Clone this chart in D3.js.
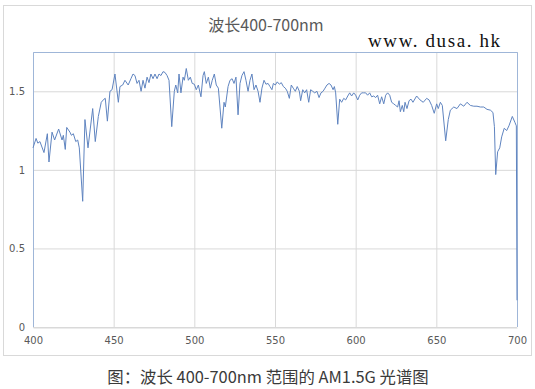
<!DOCTYPE html>
<html>
<head>
<meta charset="utf-8">
<script src="https://cdnjs.cloudflare.com/ajax/libs/d3/7.8.5/d3.min.js"></script>
<style>
	body { margin: 0; background: #fff; }
	svg { display: block; }
</style>
</head>
<body>
<svg id="chart" width="535" height="389"></svg>
<script>
// wavelength (nm)
var wavelengths = [
	400, 401.9, 403, 404.3, 406.8, 408.9, 409.9, 411.8, 413.4, 415.9,
	418, 418.8, 420, 420.9, 422.9, 423.8, 425, 426.5, 427.7, 428.7,
	430.8, 432.2, 434.1, 437, 438.6, 440.5, 442.3, 444, 444.8, 446.1,
	447.7, 449, 450.8, 452.9, 453.9, 455.6, 457, 459, 460.7, 462,
	463.2, 464.5, 465.7, 467, 468.2, 469.4, 470.7, 471.9, 473.1, 474.4,
	475.6, 476.9, 478.1, 479.3, 480.6, 481.8, 483.1, 484.3, 486, 487.6,
	488.5, 489.7, 490.5, 491.7, 493, 493.8, 495, 496.3, 497.5, 498.7,
	500, 501.2, 502.5, 504.1, 505.4, 506.2, 507.4, 508.7, 509.9, 511.1,
	512.4, 513.6, 514.9, 517, 518.4, 519.2, 520.9, 522.1, 523.4, 524.6,
	525.8, 527.1, 528.3, 529.5, 530.8, 532, 533.3, 534.5, 535.7, 537,
	538.2, 539.5, 540.7, 541.9, 543.2, 544.4, 545.7, 546.9, 548.1, 549,
	550.2, 551.4, 552.7, 553.9, 555.2, 556.4, 557.6, 558.9, 560.1, 561.3,
	562.6, 563.8, 565.1, 565.9, 567.2, 568.4, 569.6, 570.9, 572.1, 573.4,
	574.6, 576, 577.3, 578.5, 579.8, 581, 582.2, 583.5, 584.7, 586,
	586.8, 587.6, 588.9, 590.1, 591.3, 592.6, 593.8, 595.1, 596.3, 597.5,
	598.8, 600, 601.3, 602.5, 603.7, 605, 606.2, 607.4, 608.7, 609.9,
	611.2, 612.4, 613.6, 614.9, 616.1, 617.4, 618.6, 619.8, 621.1, 622.3,
	623.6, 624.8, 626, 626.9, 627.7, 628.9, 629.8, 630.6, 631.8, 633.1,
	634.3, 635.5, 637.8, 639.9, 641.9, 644, 645.5, 647.1, 648.7, 650.2,
	651.2, 652.5, 653.7, 655.8, 657.4, 658.7, 660.8, 662.8, 664.9, 667,
	669, 671.1, 673.2, 675.2, 677.3, 679.4, 681.4, 683.5, 685.1, 686,
	686.8, 688, 689.3, 690.5, 692.1, 693.6, 695, 697.1, 698.8, 699.6,
	700
];

// AM1.5G spectral irradiance, same order
var irradiance = [
	1.14, 1.20, 1.17, 1.18, 1.11, 1.23, 1.05, 1.24, 1.19, 1.26,
	1.19, 1.22, 1.13, 1.27, 1.24, 1.22, 1.23, 1.18, 1.19, 1.14,
	0.80, 1.32, 1.14, 1.39, 1.18, 1.34, 1.43, 1.45, 1.455, 1.31,
	1.50, 1.51, 1.61, 1.43, 1.53, 1.54, 1.57, 1.54, 1.58, 1.61,
	1.60, 1.55, 1.57, 1.50, 1.57, 1.52, 1.59, 1.555, 1.61, 1.58,
	1.61, 1.58, 1.61, 1.60, 1.625, 1.62, 1.60, 1.57, 1.275, 1.50,
	1.54, 1.49, 1.61, 1.49, 1.59, 1.57, 1.645, 1.57, 1.59, 1.55,
	1.545, 1.51, 1.54, 1.465, 1.60, 1.625, 1.55, 1.59, 1.52, 1.57,
	1.61, 1.54, 1.52, 1.265, 1.43, 1.40, 1.53, 1.57, 1.58, 1.55,
	1.59, 1.35, 1.55, 1.60, 1.625, 1.57, 1.50, 1.57, 1.61, 1.51,
	1.54, 1.50, 1.43, 1.52, 1.57, 1.545, 1.55, 1.53, 1.51, 1.55,
	1.54, 1.56, 1.545, 1.555, 1.53, 1.52, 1.50, 1.455, 1.54, 1.52,
	1.50, 1.53, 1.50, 1.44, 1.51, 1.49, 1.51, 1.43, 1.51, 1.50,
	1.49, 1.50, 1.46, 1.49, 1.50, 1.52, 1.54, 1.55, 1.54, 1.51,
	1.53, 1.49, 1.29, 1.45, 1.43, 1.455, 1.445, 1.47, 1.49, 1.47,
	1.49, 1.475, 1.445, 1.475, 1.49, 1.49, 1.49, 1.475, 1.49, 1.465,
	1.47, 1.46, 1.475, 1.42, 1.465, 1.42, 1.475, 1.49, 1.475, 1.43,
	1.42, 1.41, 1.40, 1.44, 1.37, 1.41, 1.37, 1.43, 1.39, 1.44,
	1.45, 1.43, 1.47, 1.445, 1.43, 1.455, 1.445, 1.41, 1.36, 1.42,
	1.39, 1.43, 1.41, 1.185, 1.32, 1.38, 1.40, 1.39, 1.42, 1.405,
	1.43, 1.41, 1.405, 1.405, 1.40, 1.40, 1.385, 1.38, 1.365, 1.275,
	0.97, 1.115, 1.14, 1.21, 1.265, 1.25, 1.28, 1.34, 1.30, 1.28,
	0.17
];

var xTicks = [400, 450, 500, 550, 600, 650, 700];
var yTicks = [0, 0.5, 1, 1.5];

var titleText = '波长400-700nm';
var watermarkText = 'www. dusa. hk';
var captionText = '图：波长 400-700nm 范围的 AM1.5G 光谱图';

var svg = d3.select('#chart');

var plotLeft = 33, plotRight = 517, plotTop = 52, plotBottom = 327;

var x = d3.scaleLinear().domain([400, 700]).range([plotLeft, plotRight]);
var y = d3.scaleLinear().domain([0, 1.75]).range([plotBottom, plotTop]);

// outer chart frame
svg.append('rect')
	.attr('x', 3.5)
	.attr('y', 5.5)
	.attr('width', 528)
	.attr('height', 350)
	.style('fill', '#fff')
	.style('stroke', '#d9d9d9');

// gridlines
svg.append('g')
	.attr('transform', 'translate(0,' + plotBottom + ')')
	.call(d3.axisBottom(x).tickValues(xTicks).tickSize(-(plotBottom - plotTop)).tickFormat(''))
	.call(function(g) { g.select('.domain').remove(); })
	.selectAll('line')
		.style('stroke', '#d9d9d9');

svg.append('g')
	.attr('transform', 'translate(' + plotLeft + ',0)')
	.call(d3.axisLeft(y).tickValues(yTicks).tickSize(-(plotRight - plotLeft)).tickFormat(''))
	.call(function(g) { g.select('.domain').remove(); })
	.selectAll('line')
		.style('stroke', '#d9d9d9');

// plot area border
svg.append('path')
	.attr('d', 'M' + (plotLeft + 0.5) + ',' + plotBottom + 'V' + (plotTop + 0.5) + 'H' + (plotRight + 0.5) + 'V' + plotBottom)
	.style('fill', 'none')
	.style('stroke', '#9fb6d8');

// x axis line and labels
var xAxis = svg.append('g')
	.attr('transform', 'translate(0,' + (plotBottom + 0.5) + ')')
	.call(d3.axisBottom(x).tickValues(xTicks).tickSize(0).tickPadding(9));
xAxis.select('.domain').style('stroke', '#d9d9d9');
xAxis.selectAll('text')
	.style('font-family', 'DejaVu Sans')
	.style('font-size', '10px')
	.style('fill', '#595959');

// y axis labels
var yAxis = svg.append('g')
	.attr('transform', 'translate(' + (plotLeft - 8) + ',0)')
	.call(d3.axisLeft(y).tickValues(yTicks).tickSize(0).tickPadding(0).tickFormat(d3.format('')));
yAxis.select('.domain').remove();
yAxis.selectAll('text')
	.style('font-family', 'DejaVu Sans')
	.style('font-size', '10px')
	.style('fill', '#595959');

// spectrum line
var line = d3.line()
	.x(function(d, i) { return x(wavelengths[i]); })
	.y(function(d) { return y(d); });

svg.append('path')
	.datum(irradiance)
	.attr('d', line)
	.style('fill', 'none')
	.style('stroke', '#5f84c0')
	.style('stroke-width', 1)
	.style('stroke-linejoin', 'round');

// title
svg.append('text')
	.attr('x', 266)
	.attr('y', 31)
	.attr('text-anchor', 'middle')
	.style('font-family', 'Noto Sans CJK SC')
	.style('font-size', '16px')
	.style('fill', '#595959')
	.text(titleText);

// watermark (serif, stretched to the width it has in the picture)
svg.append('text')
	.attr('x', 368)
	.attr('y', 47)
	.attr('textLength', 132)
	.attr('lengthAdjust', 'spacing')
	.style('font-family', 'Liberation Serif')
	.style('font-size', '19px')
	.style('fill', '#111')
	.text(watermarkText);

// caption under the chart
svg.append('text')
	.attr('x', 268)
	.attr('y', 383)
	.attr('text-anchor', 'middle')
	.style('font-family', 'Noto Sans CJK SC')
	.style('font-size', '16.4px')
	.style('fill', '#3a3a3a')
	.text(captionText);
</script>
</body>
</html>
